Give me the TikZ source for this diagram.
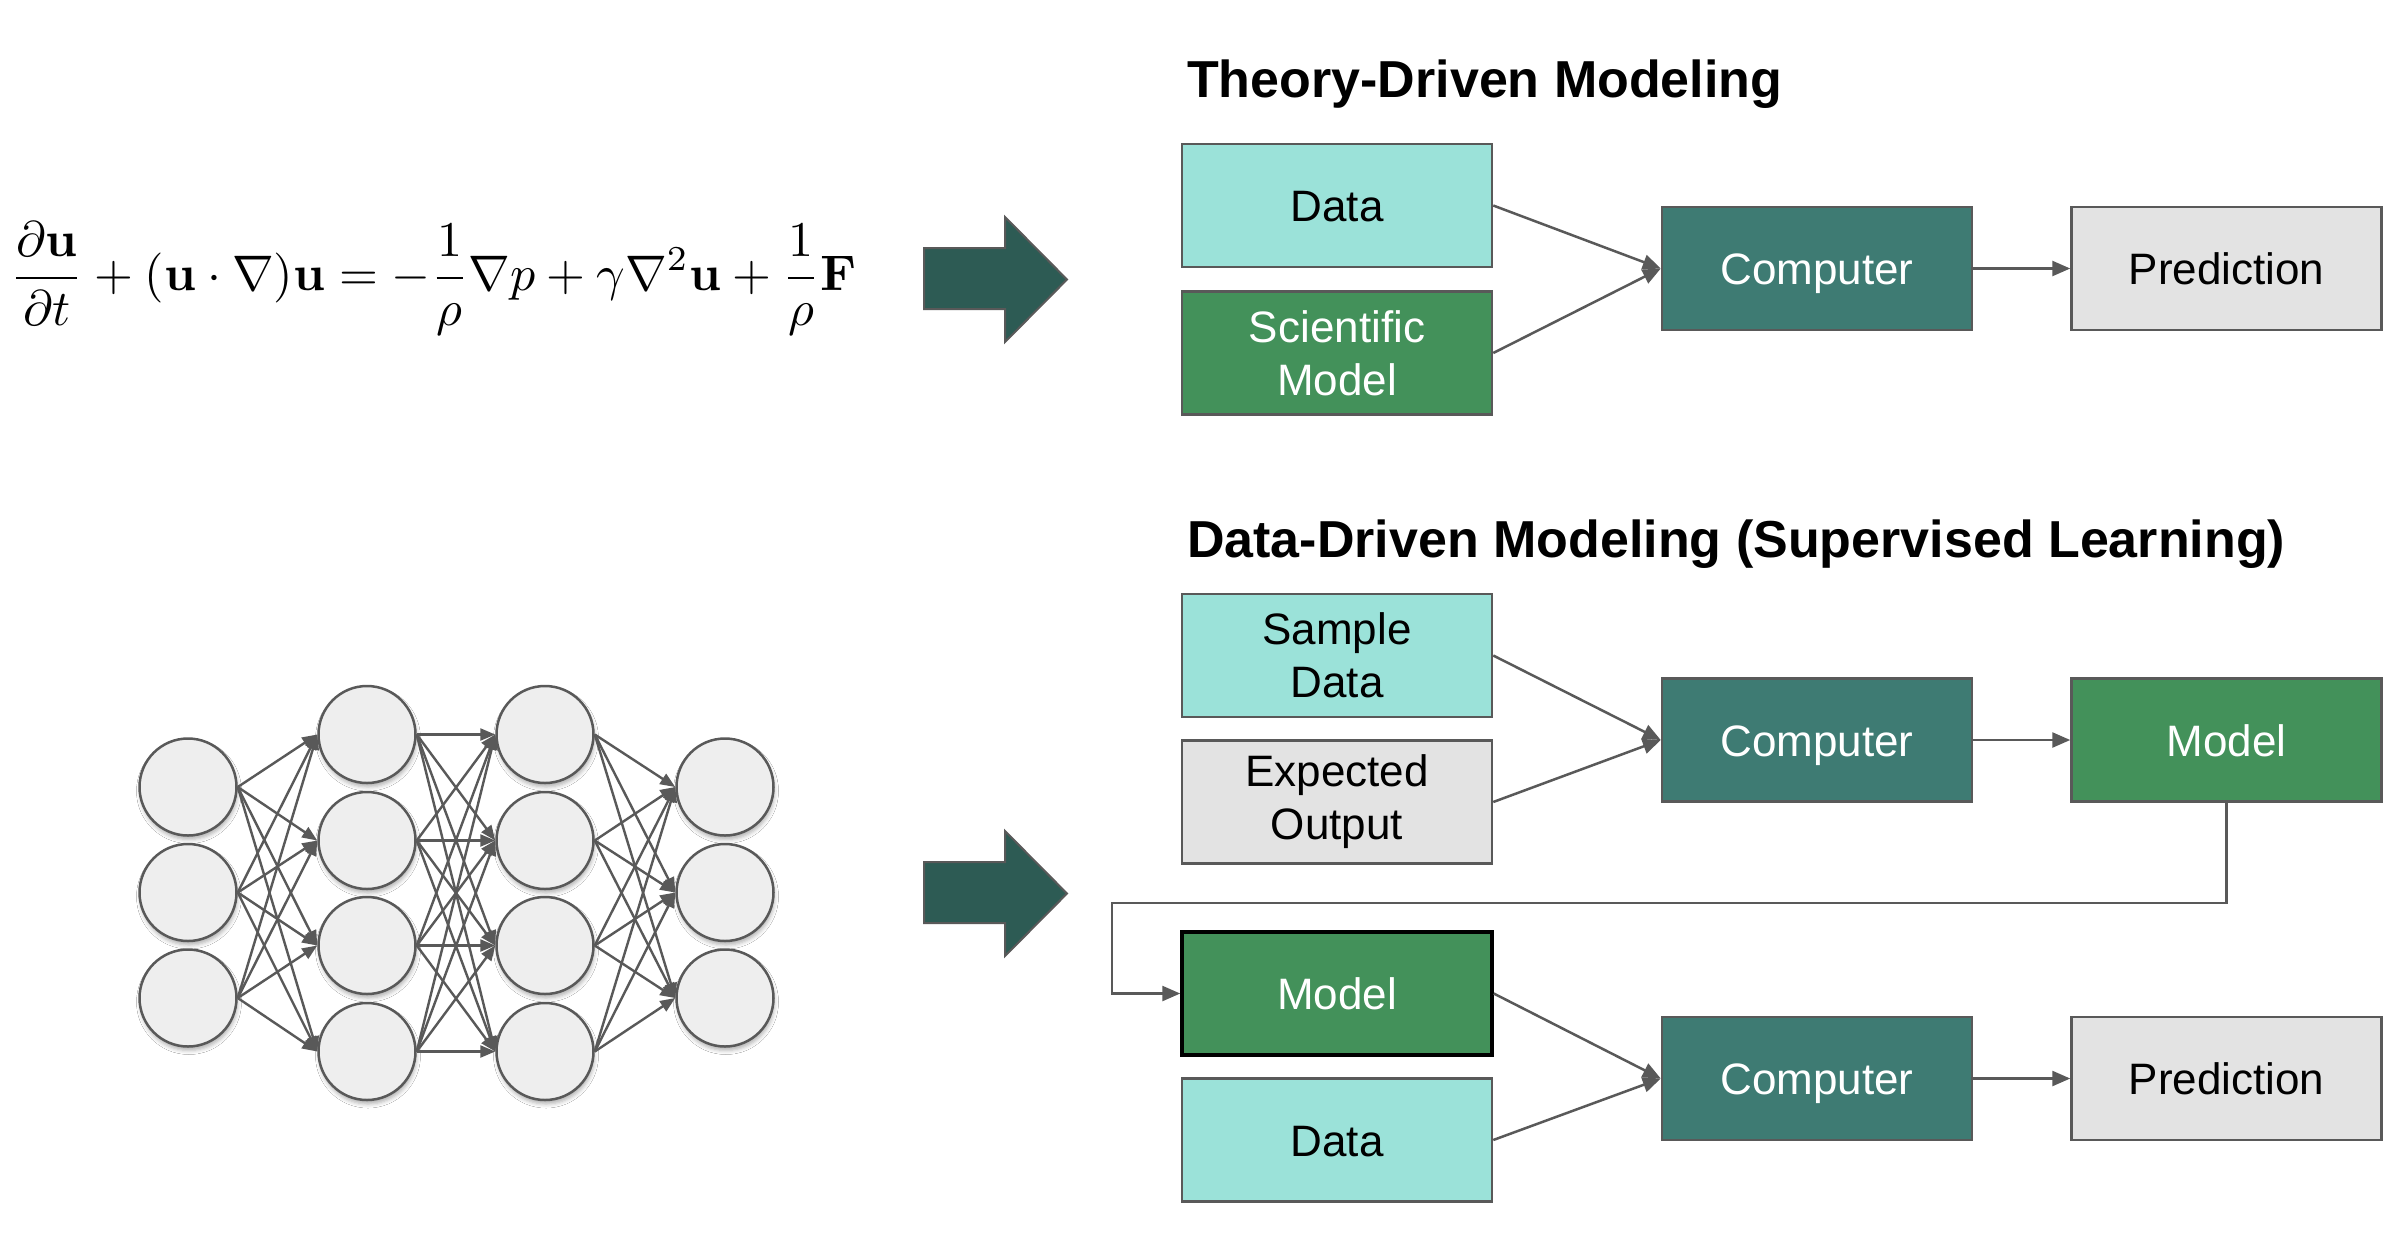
\documentclass[tikz,border=0pt]{standalone}
\usepackage[no-math]{fontspec}
\setmainfont{Liberation Sans}
\usepackage{graphicx}
\usetikzlibrary{arrows.meta,shadows.blur}
\definecolor{edgegray}{HTML}{595959}
\definecolor{datafill}{HTML}{9BE2D9}
\definecolor{modelfill}{HTML}{43915A}
\definecolor{compfill}{HTML}{3E7B73}
\definecolor{predfill}{HTML}{E3E3E3}
\definecolor{bigarrowfill}{HTML}{2D5B54}
\definecolor{neuronfill}{HTML}{EEEEEE}
\begin{document}
\begin{tikzpicture}[x=1pt,y=-1pt,
  box/.style={draw=edgegray, line width=2.5pt, minimum width=310pt, minimum height=123pt,
    inner sep=0pt, align=center, font=\fontsize{44}{53}\selectfont},
  one/.style={text height=32pt, text depth=0pt},
  databox/.style={box, fill=datafill, text=black},
  modelbox/.style={box, fill=modelfill, text=white},
  compbox/.style={box, fill=compfill, text=white},
  predbox/.style={box, fill=predfill, text=black},
  conn/.style={draw=edgegray, line width=2.5pt, -{Triangle[length=18pt,width=15pt]}},
  neuron/.style={circle, draw=edgegray, fill=neuronfill, line width=2.5pt, minimum size=97pt,
    inner sep=0pt, blur shadow={shadow xshift=1pt, shadow yshift=-4pt, shadow blur radius=4pt, shadow opacity=30}},
  nnedge/.style={draw=edgegray, line width=2.4pt, -{Triangle[length=15pt,width=12pt]}},
  title/.style={anchor=base west, inner sep=0pt, font=\bfseries\fontsize{52}{60}\selectfont},
  bigarrow/.style={draw=edgegray, line width=2pt, fill=bigarrowfill, line join=miter}
]
\useasboundingbox[fill=white] (0,0) rectangle (2397,1240);

% equation
\node[anchor=west, inner sep=0pt] (eq) at (10,278.5)
  {\resizebox{846pt}{!}{$\displaystyle \frac{\partial\mathbf{u}}{\partial t}+(\mathbf{u}\cdot\nabla)\mathbf{u}=-\frac{1}{\rho}\nabla p+\gamma\nabla^2\mathbf{u}+\frac{1}{\rho}\mathbf{F}$}};

% big arrows
\draw[bigarrow] (924,248) -- (1005,248) -- (1005,217) -- (1067,279.5) -- (1005,342) -- (1005,309) -- (924,309) -- cycle;
\draw[bigarrow] (924,862) -- (1005,862) -- (1005,831) -- (1067,893.5) -- (1005,956) -- (1005,923) -- (924,923) -- cycle;

% titles
\node[title] (t1) at (1187,97) {Theory-Driven Modeling};
\node[title] (t2) at (1187,557) {Data-Driven Modeling (Supervised Learning)};

% theory-driven
\node[databox, one] (dataT) at (1337,205.5) {Data};
\node[modelbox] (sciT) at (1337,353) {Scientific\\Model};
\node[compbox, one] (compT) at (1817,268.5) {Computer};
\node[predbox, one] (predT) at (2226.5,268.5) {Prediction};
\draw[conn] (dataT.east) -- (compT.west);
\draw[conn] (sciT.east) -- (compT.west);
\draw[conn] (compT.east) -- (predT.west);

% data-driven
\node[databox] (sample) at (1337,655.5) {Sample\\Data};
\node[predbox] (expected) at (1337,802) {Expected\\Output};
\node[compbox, one] (comp2) at (1817,740) {Computer};
\node[modelbox, one] (model1) at (2226.5,740) {Model};
\draw[conn] (sample.east) -- (comp2.west);
\draw[conn] (expected.east) -- (comp2.west);
\draw[conn] (comp2.east) -- (model1.west);

\node[modelbox, one, draw=black, line width=3.5pt] (model2) at (1337,993.5) {Model};
\node[databox, one] (data3) at (1337,1140) {Data};
\node[compbox, one] (comp3) at (1817,1078.5) {Computer};
\node[predbox, one] (pred3) at (2226.5,1078.5) {Prediction};
\coordinate (elbow) at (1112,903);
\draw[conn] (model1.south) |- (elbow) |- (model2.west);
\draw[conn] (model2.east) -- (comp3.west);
\draw[conn] (data3.east) -- (comp3.west);
\draw[conn] (comp3.east) -- (pred3.west);

% neural network
\foreach \k/\y in {1/787,2/892.5,3/998} {
  \node[neuron] (a\k) at (188,\y) {};
  \node[neuron] (d\k) at (725,\y) {};
}
\foreach \k/\y in {1/734.5,2/840.5,3/945.5,4/1051.5} {
  \node[neuron] (b\k) at (367,\y) {};
  \node[neuron] (c\k) at (545,\y) {};
}
\foreach \i in {1,2,3} \foreach \j in {1,2,3,4} \draw[nnedge] (a\i.east) -- (b\j.west);
\foreach \i in {1,2,3,4} \foreach \j in {1,2,3,4} \draw[nnedge] (b\i.east) -- (c\j.west);
\foreach \i in {1,2,3,4} \foreach \j in {1,2,3} \draw[nnedge] (c\i.east) -- (d\j.west);
\end{tikzpicture}
\end{document}
